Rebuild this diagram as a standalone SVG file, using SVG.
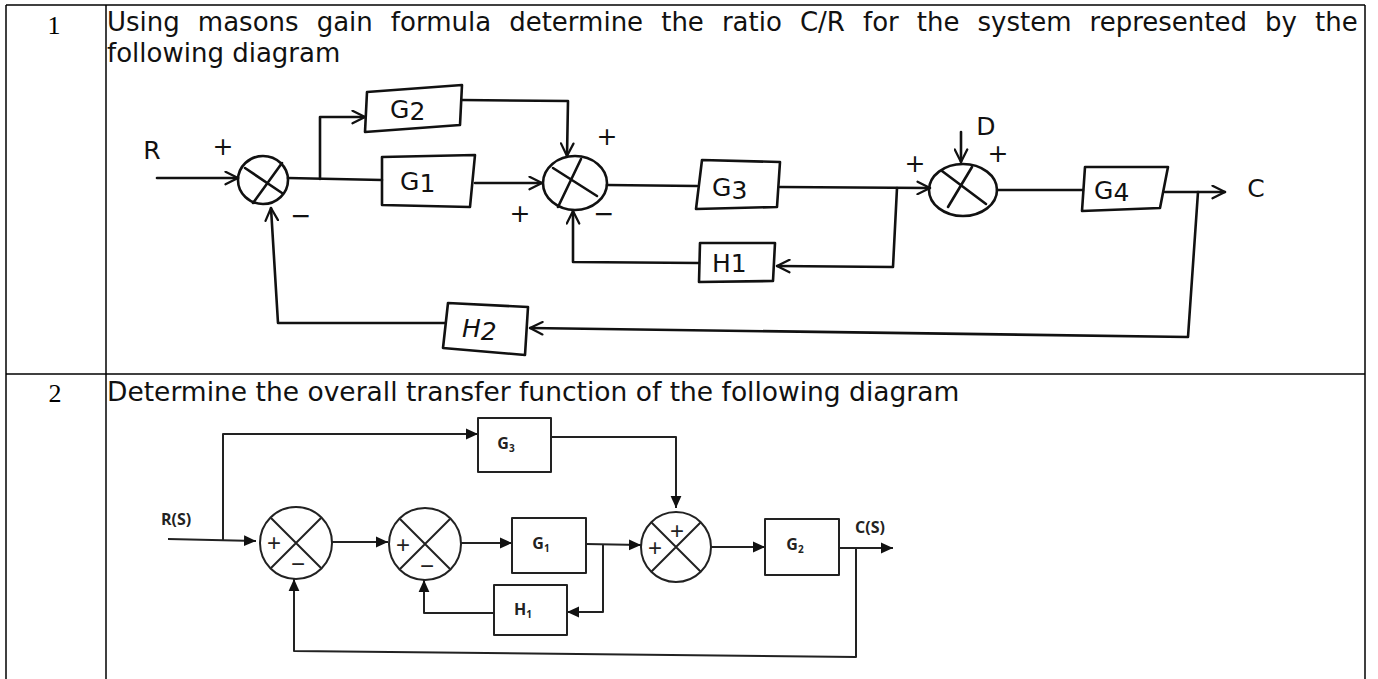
<svg xmlns="http://www.w3.org/2000/svg" width="1378" height="679" viewBox="0 0 1378 679">
<defs>
<marker id="open" viewBox="0 0 12 12" refX="11" refY="6" markerWidth="15" markerHeight="15" markerUnits="userSpaceOnUse" orient="auto">
<path d="M1,1 L11,6 L1,11" fill="none" stroke="#111" stroke-width="1.8" stroke-linecap="round" stroke-linejoin="round"/>
</marker>
<marker id="tri" viewBox="0 0 10 10" refX="10" refY="5" markerWidth="12" markerHeight="12" markerUnits="userSpaceOnUse" orient="auto">
<path d="M0,0.5 L10,5 L0,9.5 z" fill="#111"/>
</marker>
</defs>
<style>
.tbl{stroke:#000;stroke-width:1.5;fill:none}
.num{font-family:"Liberation Serif","Times New Roman",serif;font-size:26px;fill:#000}
.q{font-family:"DejaVu Sans",Verdana,sans-serif;fill:#111}
.hand{fill:none;stroke:#111;stroke-width:2.6;stroke-linecap:round;stroke-linejoin:round}
.hl{font-family:"DejaVu Sans",sans-serif;font-size:25px;fill:#111}
.hs{font-family:"DejaVu Sans",sans-serif;font-size:25px;fill:#111;text-anchor:middle}
.thin{fill:none;stroke:#222;stroke-width:2;stroke-linejoin:round}
.blk{font-family:"Open Sans","Liberation Sans",sans-serif;font-weight:bold;font-size:16px;fill:#222;text-anchor:middle}
.sg{font-family:"Liberation Sans",sans-serif;font-size:24px;fill:#222;text-anchor:middle}
</style>
<g id="table">
<line class="tbl" x1="6" y1="5" x2="1365" y2="5"/>
<line class="tbl" x1="6" y1="5" x2="6" y2="679"/>
<line class="tbl" x1="106" y1="5" x2="106" y2="679"/>
<line class="tbl" x1="1365" y1="5" x2="1365" y2="679"/>
<line class="tbl" x1="6" y1="374" x2="1365" y2="374"/>
<text class="num" x="54" y="34" text-anchor="middle">1</text>
<text class="num" x="55" y="402" text-anchor="middle">2</text>
<text class="q" x="107" y="31" font-size="26" word-spacing="9.8">Using masons gain formula determine the ratio C/R for the system represented by the</text>
<text class="q" x="107" y="62" font-size="26">following diagram</text>
<text class="q" x="107" y="401" font-size="26.5">Determine the overall transfer function of the following diagram</text>
</g>

<!-- Diagram 1 (hand drawn) -->
<g id="d1-connectors">
<path class="hand" d="M157,178 L238,178" marker-end="url(#open)"/>
<path class="hand" d="M288,178 L382,180"/>
<path class="hand" d="M320,179 L320,117 L365,117" marker-end="url(#open)"/>
<path class="hand" d="M475,183 L542,183" marker-end="url(#open)"/>
<path class="hand" d="M462,100 L568,101 L567,156" marker-end="url(#open)"/>
<path class="hand" d="M607,185 L697,186"/>
<path class="hand" d="M780,187 L930,188" marker-end="url(#open)"/>
<path class="hand" d="M897,188 L893,267 L777,266" marker-end="url(#open)"/>
<path class="hand" d="M699,263 L573,262 L573,211" marker-end="url(#open)"/>
<path class="hand" d="M961,132 L961,162" marker-end="url(#open)"/>
<path class="hand" d="M997,190 L1083,190"/>
<path class="hand" d="M1165,192 L1225,192" marker-end="url(#open)"/>
<path class="hand" d="M1198,192 L1188,337 L530,328" marker-end="url(#open)"/>
<path class="hand" d="M445,323 L278,323 L271,208" marker-end="url(#open)"/>
</g>
<g id="d1-sum1">
<ellipse class="hand" cx="263" cy="180" rx="25" ry="24"/>
<path class="hand" d="M245,168 L282,193 M282,163 L253,203"/>
<text class="hs" x="223" y="155" font-size="28">+</text>
<text class="hs" x="301" y="224" font-size="28">−</text>
</g>
<g id="d1-R"><text class="hs" x="152" y="159">R</text></g>
<g id="d1-G2">
<path class="hand" d="M367,92 L462,85 L460,125 L365,132 Z"/>
<text class="hl" x="390" y="118">G<tspan dy="2">2</tspan></text>
</g>
<g id="d1-G1">
<path class="hand" d="M382,157 L475,155 L470,207 L382,205 Z"/>
<text class="hl" x="400" y="190">G<tspan dy="2">1</tspan></text>
</g>
<g id="d1-sum2">
<ellipse class="hand" cx="575" cy="183" rx="32" ry="27"/>
<path class="hand" d="M553,168 L597,196 M581,159 L558,207"/>
<text class="hs" x="607" y="145" font-size="28">+</text>
<text class="hs" x="520" y="222" font-size="28">+</text>
<text class="hs" x="604" y="222" font-size="28">−</text>
</g>
<g id="d1-G3">
<path class="hand" d="M702,160 L780,162 L777,207 L696,209 Z"/>
<text class="hl" x="712" y="196">G<tspan dy="3">3</tspan></text>
</g>
<g id="d1-H1">
<path class="hand" d="M700,243 L775,243 L773,281 L699,282 Z"/>
<text class="hl" x="712" y="272">H<tspan>1</tspan></text>
</g>
<g id="d1-sum3">
<ellipse class="hand" cx="963" cy="190" rx="34" ry="26"/>
<path class="hand" d="M942,171 L986,204 M972,167 L948,207"/>
<text class="hs" x="915" y="172" font-size="28">+</text>
<text class="hs" x="986" y="135" font-size="26">D</text>
<text class="hs" x="998" y="162" font-size="28">+</text>
</g>
<g id="d1-G4">
<path class="hand" d="M1085,167 L1168,167 L1160,208 L1082,211 Z"/>
<text class="hl" x="1094" y="199">G<tspan dy="2">4</tspan></text>
</g>
<g id="d1-C"><text class="hs" x="1256" y="197" font-size="26">C</text></g>
<g id="d1-H2">
<path class="hand" d="M448,303 L528,307 L525,355 L443,348 Z"/>
<text class="hl" x="462" y="337" font-style="italic">H<tspan dy="3">2</tspan></text>
</g>

<!-- Diagram 2 -->
<g id="d2-connectors">
<path class="thin" d="M168,539 L256,541" marker-end="url(#tri)"/>
<path class="thin" d="M223,540 L223,434 L478,434" marker-end="url(#tri)"/>
<path class="thin" d="M551,437 L676,437 L676,508" marker-end="url(#tri)"/>
<path class="thin" d="M332,542 L388,542" marker-end="url(#tri)"/>
<path class="thin" d="M461,543 L512,543" marker-end="url(#tri)"/>
<path class="thin" d="M586,544 L641,545" marker-end="url(#tri)"/>
<path class="thin" d="M603,544 L603,612 L567,612" marker-end="url(#tri)"/>
<path class="thin" d="M494,613 L424,613 L424,580" marker-end="url(#tri)"/>
<path class="thin" d="M711,547 L765,547" marker-end="url(#tri)"/>
<path class="thin" d="M839,548 L893,548" marker-end="url(#tri)"/>
<path class="thin" d="M856,548 L856,657 L294,651 L294,579" marker-end="url(#tri)"/>
</g>
<g id="d2-R"><text class="blk" x="176" y="525">R(S)</text></g>
<g id="d2-C"><text class="blk" x="870" y="533">C(S)</text></g>
<g id="d2-G3">
<rect class="thin" x="478" y="418" width="73" height="54"/>
<text class="blk" x="506" y="449">G<tspan font-size="10" dy="3">3</tspan></text>
</g>
<g id="d2-sum1">
<circle class="thin" cx="296" cy="543" r="36"/>
<path class="thin" d="M271,518 L321,568 M321,518 L271,568"/>
<text class="sg" x="274" y="551">+</text>
<text class="sg" x="298" y="572">−</text>
</g>
<g id="d2-sum2">
<circle class="thin" cx="425" cy="544" r="36"/>
<path class="thin" d="M400,519 L450,569 M450,519 L400,569"/>
<text class="sg" x="403" y="553">+</text>
<text class="sg" x="427" y="574">−</text>
</g>
<g id="d2-G1">
<rect class="thin" x="512" y="518" width="74" height="55"/>
<text class="blk" x="541" y="549">G<tspan font-size="10" dy="3">1</tspan></text>
</g>
<g id="d2-H1">
<rect class="thin" x="494" y="585" width="73" height="50"/>
<text class="blk" x="523" y="615">H<tspan font-size="10" dy="3">1</tspan></text>
</g>
<g id="d2-sum3">
<circle class="thin" cx="676" cy="547" r="35"/>
<path class="thin" d="M651,522 L701,572 M701,522 L651,572"/>
<text class="sg" x="677" y="539">+</text>
<text class="sg" x="655" y="556">+</text>
</g>
<g id="d2-G2">
<rect class="thin" x="765" y="519" width="74" height="56"/>
<text class="blk" x="795" y="550">G<tspan font-size="10" dy="3">2</tspan></text>
</g>
</svg>
